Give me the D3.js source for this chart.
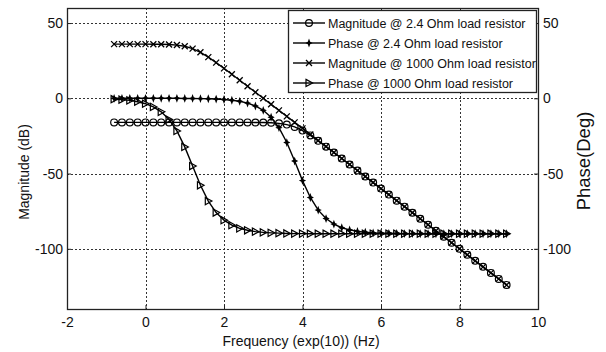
<!DOCTYPE html>
<html>
<head>
<meta charset="utf-8">
<script src="https://cdn.jsdelivr.net/npm/d3@7"></script>
<style>
  body { margin: 0; background: #fff; }
  svg { display: block; font-family: "Liberation Sans", Arial, sans-serif; }
</style>
</head>
<body>
<div id="chart"></div>
<script>
// frequency, log10 scale
const freq = [-0.8, -0.6, -0.4, -0.2, 0, 0.2, 0.4, 0.6, 0.8, 1, 1.2, 1.4, 1.6, 1.8, 2, 2.2, 2.4, 2.6, 2.8, 3,
  3.2, 3.4, 3.6, 3.8, 4, 4.2, 4.4, 4.6, 4.8, 5, 5.2, 5.4, 5.6, 5.8, 6, 6.2, 6.4, 6.6, 6.8, 7,
  7.2, 7.4, 7.6, 7.8, 8, 8.2, 8.4, 8.6, 8.8, 9, 9.2];

const mag24 = [-16, -16, -16, -16, -16, -16, -16, -16, -16, -16, -16, -16, -16, -16, -16, -16,
  -16.01, -16.02, -16.04, -16.11, -16.27, -16.64, -17.46, -19.01, -21.46, -24.64, -28.27, -32.11, -36.04, -40.02,
  -44.01, -48, -52, -56, -60, -64, -68, -72, -76, -80, -84, -88, -92, -96, -100, -104, -108, -112, -116, -120, -124];

const phase24 = [0, 0, 0, 0, 0, 0, 0, 0, 0, -0.1, -0.1, -0.2, -0.3, -0.5, -0.8, -1.3, -2.0, -3.2, -5.1, -8.0,
  -12.6, -19.5, -29.4, -41.7, -54.7, -65.9, -74.3, -79.9, -83.6, -86.0, -87.4, -88.4, -89.0, -89.4, -89.6, -89.7, -89.8, -89.9, -89.9,
  -90, -90, -90, -90, -90, -90, -90, -90, -90, -90, -90, -90];

const mag1000 = [36, 36, 36, 36, 35.98, 35.96, 35.89, 35.73, 35.36, 34.55, 32.99, 30.55, 27.36, 23.73, 19.89, 15.96,
  11.98, 7.99, 4, 0, -4, -8, -12, -16, -20, -24, -28, -32, -36, -40, -44, -48, -52, -56, -60, -64, -68, -72, -76,
  -80, -84, -88, -92, -96, -100, -104, -108, -112, -116, -120, -124];

const phase1000 = [-0.6, -0.9, -1.4, -2.3, -3.6, -5.7, -9.0, -14.1, -21.7, -32.3, -45.0, -57.8, -68.3, -75.9, -81.0,
  -84.3, -86.4, -87.7, -88.6, -89.1, -89.4, -89.6, -89.8, -89.9, -89.9,
  -90, -90, -90, -90, -90, -90, -90, -90, -90, -90, -90, -90, -90, -90, -90, -90, -90, -90, -90, -90, -90, -90, -90, -90, -90, -90];

const xTicks = [-2, 0, 2, 4, 6, 8, 10];
const yTicks = [50, 0, -50, -100];

const seriesNames = [
  'Magnitude @ 2.4 Ohm load resistor',
  'Phase @ 2.4 Ohm load resistor',
  'Magnitude @ 1000 Ohm load resistor',
  'Phase @ 1000 Ohm load resistor'
];

const W = 606, H = 352;
const plot = { left: 67, right: 538, top: 8, bottom: 309 };

const svg = d3.select('#chart').append('svg').attr('width', W).attr('height', H);

const x = d3.scaleLinear().domain([-2, 10]).range([plot.left, plot.right]);
const y = d3.scaleLinear().domain([-140, 60]).range([plot.bottom, plot.top]);
const yR = d3.scaleLinear().domain([-140, 60]).range([plot.bottom, plot.top]);

// grid
const grid = svg.append('g').attr('stroke', '#333').attr('stroke-width', 1).attr('stroke-dasharray', '2,2');
xTicks.filter(t => t > -2 && t < 10).forEach(t => {
  grid.append('line').attr('x1', Math.round(x(t)) + 0.5).attr('x2', Math.round(x(t)) + 0.5)
    .attr('y1', plot.top).attr('y2', plot.bottom);
});
yTicks.forEach(t => {
  grid.append('line').attr('y1', Math.round(y(t)) + 0.5).attr('y2', Math.round(y(t)) + 0.5)
    .attr('x1', plot.left).attr('x2', plot.right);
});

// axes
const fmt = d => String(d);
const xAxis = svg.append('g').attr('transform', `translate(0,${plot.bottom})`)
  .call(d3.axisBottom(x).tickValues(xTicks).tickSize(-4).tickPadding(8).tickFormat(fmt));
const yAxis = svg.append('g').attr('transform', `translate(${plot.left},0)`)
  .call(d3.axisLeft(y).tickValues(yTicks).tickSize(-4).tickPadding(4).tickFormat(fmt));
const yAxisR = svg.append('g').attr('transform', `translate(${plot.right},0)`)
  .call(d3.axisRight(yR).tickValues(yTicks).tickSize(-4).tickPadding(5).tickFormat(fmt));

[xAxis, yAxis, yAxisR].forEach(a => {
  a.select('.domain').remove();
  a.selectAll('line').attr('stroke', '#222');
  a.selectAll('text').attr('font-size', 14).attr('fill', '#111').style('font-family', '"Liberation Sans", Arial, sans-serif');
});

// box
svg.append('rect')
  .attr('x', plot.left + 0.5).attr('y', plot.top + 0.5)
  .attr('width', plot.right - plot.left).attr('height', plot.bottom - plot.top)
  .attr('fill', 'none').attr('stroke', '#222').attr('stroke-width', 1.3);

// labels
svg.append('text').attr('x', 301).attr('y', 346).attr('text-anchor', 'middle')
  .attr('font-size', 14).attr('fill', '#111').text('Frequency (exp(10)) (Hz)');
svg.append('text').attr('transform', 'translate(29,172) rotate(-90)').attr('text-anchor', 'middle')
  .attr('font-size', 14).attr('fill', '#111').text('Magnitude (dB)');
svg.append('text').attr('transform', 'translate(590,161) rotate(-90)').attr('text-anchor', 'middle')
  .attr('font-size', 18.5).attr('fill', '#111').text('Phase(Deg)');

// markers
const markers = {
  circle: g => g.append('circle').attr('r', 3.4).attr('fill', 'none').attr('stroke', '#000').attr('stroke-width', 1.2),
  plus: g => g.append('path').attr('d', 'M0,-4.4L1.2,-1.2L3.6,0L1.2,1.2L0,4.4L-1.2,1.2L-3.6,0L-1.2,-1.2Z').attr('fill', '#000'),
  cross: g => g.append('path').attr('d', 'M-3,-3L3,3M-3,3L3,-3').attr('stroke', '#000').attr('stroke-width', 1.3),
  tri: g => g.append('path').attr('d', 'M-3,-3.6L3.6,0L-3,3.6Z').attr('fill', 'none').attr('stroke', '#000').attr('stroke-width', 1.2)
};

const series = [
  { values: mag24, scale: y, marker: 'circle' },
  { values: phase24, scale: yR, marker: 'plus' },
  { values: mag1000, scale: y, marker: 'cross' },
  { values: phase1000, scale: yR, marker: 'tri' }
];

series.forEach(s => {
  const pts = freq.map((f, i) => [f, s.values[i]]);
  const line = d3.line().x(d => x(d[0])).y(d => s.scale(d[1]));
  svg.append('path').datum(pts)
    .attr('fill', 'none').attr('stroke', '#000').attr('stroke-width', 1.4)
    .attr('d', line);
  svg.append('g').selectAll('g').data(pts).join('g')
    .attr('transform', d => `translate(${x(d[0])},${s.scale(d[1])})`)
    .each(function () { markers[s.marker](d3.select(this)); });
});

// legend
const leg = svg.append('g');
leg.append('rect').attr('x', 288.5).attr('y', 10.5).attr('width', 248).attr('height', 82)
  .attr('fill', '#fff').attr('stroke', '#222').attr('stroke-width', 1.3);
seriesNames.forEach((name, i) => {
  const ly = 23 + i * 20;
  leg.append('line').attr('x1', 293).attr('x2', 325).attr('y1', ly).attr('y2', ly)
    .attr('stroke', '#000').attr('stroke-width', 1.4);
  const m = leg.append('g').attr('transform', `translate(309,${ly})`);
  markers[series[i].marker](m);
  leg.append('text').attr('x', 328).attr('y', ly + 4.5).attr('font-size', 12.5).attr('fill', '#111').text(name);
});
</script>
</body>
</html>
